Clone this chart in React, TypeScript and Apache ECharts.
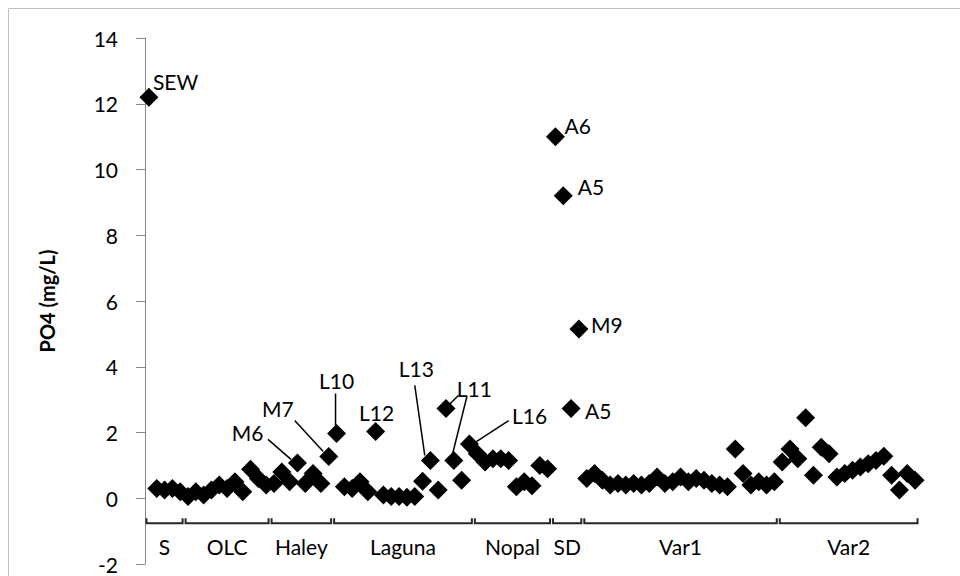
import { useEffect, useRef } from "react";
import * as echarts from "echarts";

// Site groups along the horizontal axis, in order
const groupNames = ["S", "OLC", "Haley", "Laguna", "Nopal", "SD", "Var1", "Var2"];

// PO4 (mg/L) per sample, one array per site group
const sValues = [12.2, 0.3, 0.25, 0.3, 0.2];
const olcValues = [0.05, 0.2, 0.1, 0.25, 0.4, 0.3, 0.5, 0.2, 0.88, 0.6, 0.4];
const haleyValues = [0.45, 0.8, 0.5, 1.07, 0.45, 0.75, 0.45, 1.27];
const lagunaValues = [1.97, 0.35, 0.3, 0.5, 0.2, 2.03, 0.1, 0.05, 0.05, 0.03, 0.05, 0.52, 1.15, 0.25, 2.73, 1.15, 0.55, 1.65];
const nopalValues = [1.35, 1.1, 1.2, 1.2, 1.15, 0.35, 0.5, 0.38, 1.0, 0.9];
const sdValues = [11.0, 9.2, 2.73, 5.15];
const var1Values = [0.6, 0.75, 0.55, 0.4, 0.45, 0.4, 0.45, 0.4, 0.45, 0.65, 0.45, 0.5, 0.65, 0.5, 0.6, 0.55, 0.45, 0.4, 0.35, 1.5, 0.75, 0.4, 0.5, 0.4, 0.5];
const var2Values = [1.1, 1.5, 1.2, 2.45, 0.7, 1.55, 1.35, 0.65, 0.75, 0.85, 0.95, 1.05, 1.15, 1.28, 0.7, 0.25, 0.75, 0.55];

const groupValues = [sValues, olcValues, haleyValues, lagunaValues, nopalValues, sdValues, var1Values, var2Values];

// Named samples: group, position within group, label text
const sampleLabels = [
  { group: "S", pos: 0, text: "SEW" },
  { group: "Haley", pos: 3, text: "M6" },
  { group: "Haley", pos: 7, text: "M7" },
  { group: "Laguna", pos: 0, text: "L10" },
  { group: "Laguna", pos: 5, text: "L12" },
  { group: "Laguna", pos: 12, text: "L13" },
  { group: "Laguna", pos: 14, text: "L11" },
  { group: "Laguna", pos: 17, text: "L16" },
  { group: "SD", pos: 0, text: "A6" },
  { group: "SD", pos: 1, text: "A5" },
  { group: "SD", pos: 2, text: "A5" },
  { group: "SD", pos: 3, text: "M9" },
];

// Placement of each label relative to its point (pixels), and leader lines.
// A leader line is [targetStep, x1, y1, x2, y2], relative to the point targetStep samples later.
type Placement = { dx: number; dy: number; align: "left" | "center" | "right"; lines?: number[][] };
const labelPlacement: Placement[] = [
  { dx: 4, dy: -16, align: "left" },
  { dx: -34, dy: -31, align: "right", lines: [[0, -29.5, -23.7, -6.5, -3.7]] },
  { dx: -35, dy: -47.6, align: "right", lines: [[0, -34, -36, -5.5, -5]] },
  { dx: 0, dy: -53, align: "center", lines: [[0, -1, -40, -1, -8]] },
  { dx: 1, dy: -19, align: "center" },
  { dx: -14, dy: -91.5, align: "center", lines: [[0, -15.6, -75, -5.6, -5]] },
  { dx: 28.4, dy: -20.4, align: "center", lines: [[0, 12.6, -13.2, 2.6, -3.2], [1, 13.1, -64, -1.9, -4]] },
  { dx: 42.5, dy: -29, align: "left", lines: [[0, 39.2, -23.3, 5.8, -1.7]] },
  { dx: 9, dy: -11, align: "left" },
  { dx: 14.5, dy: -9.5, align: "left" },
  { dx: 14, dy: 1.5, align: "left" },
  { dx: 12, dy: -4, align: "left" },
];

const FONT = "Lato, 'Open Sans', sans-serif";

export default function App() {
  const ref = useRef<HTMLDivElement>(null);

  useEffect(() => {
    if (!ref.current) return;
    const chart = echarts.init(ref.current, null, { renderer: "svg" });

    const categories: string[] = [];
    const values: number[] = [];
    const groupRanges: number[][] = [];
    groupValues.forEach((vals, gi) => {
      const start = values.length;
      vals.forEach((v, k) => {
        categories.push(`${groupNames[gi]} ${k + 1}`);
        values.push(v);
      });
      groupRanges.push([start, values.length - 1, gi]);
    });

    const labelData = sampleLabels.map((l, k) => {
      const idx = groupRanges[groupNames.indexOf(l.group)][0] + l.pos;
      return [idx, values[idx], k];
    });

    chart.setOption({
      animation: false,
      backgroundColor: "#ffffff",
      graphic: [
        {
          type: "rect",
          shape: { x: 8.5, y: 8.5, width: 1000, height: 1000 },
          style: { fill: "none", stroke: "#bfbfbf", lineWidth: 1 },
          silent: true,
        },
      ],
      grid: { left: 145, right: 41, top: 38, bottom: 12, containLabel: false },
      xAxis: {
        type: "category",
        data: categories,
        boundaryGap: true,
        axisLine: { show: false },
        axisTick: { show: false },
        axisLabel: { show: false },
        splitLine: { show: false },
      },
      yAxis: {
        type: "value",
        min: -2,
        max: 14,
        interval: 2,
        name: "PO4 (mg/L)",
        nameLocation: "middle",
        nameGap: 88,
        nameRotate: 90,
        nameTextStyle: { fontFamily: FONT, fontSize: 20, fontWeight: "bold", color: "#000" },
        axisLine: { show: true, lineStyle: { color: "#868686", width: 1 } },
        axisTick: { show: true, inside: false, length: 9, lineStyle: { color: "#868686" } },
        axisLabel: { fontFamily: FONT, fontSize: 21, lineHeight: 16, color: "#000", margin: 27 },
        splitLine: { show: false },
      },
      series: [
        {
          type: "scatter",
          data: values,
          symbol: "diamond",
          symbolSize: 19,
          itemStyle: { color: "#000", opacity: 1 },
          z: 3,
        },
        {
          type: "custom",
          data: groupRanges,
          clip: false,
          silent: true,
          renderItem: (_params: any, api: any) => {
            const s = api.value(0);
            const e = api.value(1);
            const gi = api.value(2);
            const band = api.size([1, 0])[0];
            const [xs, y0] = api.coord([s, 0]);
            const xe = api.coord([e, 0])[0];
            const left = xs - band / 2 + 1.5;
            const right = xe + band / 2 - 1.5;
            const yb = y0 + 25;
            return {
              type: "group",
              children: [
                {
                  type: "polyline",
                  shape: { points: [[left, yb - 5], [left, yb], [right, yb], [right, yb - 5]] },
                  style: { stroke: "#262626", lineWidth: 2, fill: null },
                },
                {
                  type: "text",
                  style: {
                    text: groupNames[gi],
                    x: (left + right) / 2,
                    y: yb + 23,
                    fill: "#000",
                    font: `21px ${FONT}`,
                    align: "center",
                    verticalAlign: "middle",
                    textAlign: "center",
                    textVerticalAlign: "middle",
                  },
                },
              ],
            };
          },
        },
        {
          type: "custom",
          data: labelData,
          clip: false,
          silent: true,
          z: 4,
          renderItem: (_params: any, api: any) => {
            const idx = api.value(0);
            const k = api.value(2);
            const [px, py] = api.coord([idx, values[idx]]);
            const pl = labelPlacement[k];
            const children: any[] = [
              {
                type: "text",
                style: {
                  text: sampleLabels[k].text,
                  x: px + pl.dx,
                  y: py + pl.dy,
                  fill: "#000",
                  font: `21px ${FONT}`,
                  align: pl.align,
                  verticalAlign: "middle",
                  textAlign: pl.align,
                  textVerticalAlign: "middle",
                },
              },
            ];
            (pl.lines || []).forEach((ln) => {
              const t = idx + ln[0];
              const [tx, ty] = api.coord([t, values[t]]);
              children.push({
                type: "line",
                shape: { x1: tx + ln[1], y1: ty + ln[2], x2: tx + ln[3], y2: ty + ln[4] },
                style: { stroke: "#000", lineWidth: 1.5 },
              });
            });
            return { type: "group", children };
          },
        },
      ],
    });

    return () => chart.dispose();
  }, []);

  return (
    <div
      ref={ref}
      style={{ position: "fixed", left: 0, top: 0, width: 960, height: 576, background: "#fff" }}
    />
  );
}
